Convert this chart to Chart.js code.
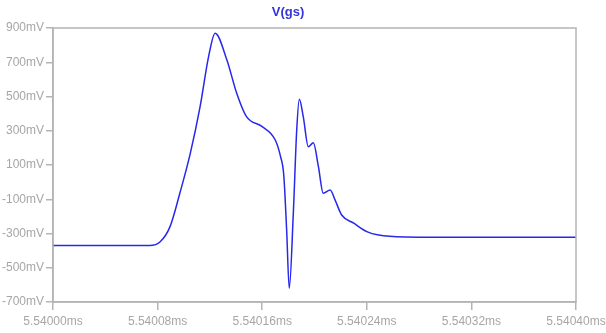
<!DOCTYPE html>
<html>
<head>
<meta charset="utf-8">
<script src="https://cdn.jsdelivr.net/npm/chart.js@4/dist/chart.umd.min.js"></script>
<style>
  html, body { margin: 0; padding: 0; background: #fff; }
  #wrap { width: 606px; height: 333px; }
</style>
</head>
<body>
<div id="wrap"><canvas id="myChart"></canvas></div>
<script>
// time offset from 5.54000ms, in units of 0.00001 ms
const timeOffsets = [
    0, 4, 7.4, 8.2, 8.95, 9.7, 10.5, 11.25, 11.9, 12.4,
    13.3, 14.05, 14.8, 16.0, 17.0, 17.4, 17.65, 17.87, 18.07, 18.38,
    18.64, 18.84, 19.14, 19.53, 19.91, 20.3, 20.67, 21.2, 21.57, 22.08,
    23.0, 24.0, 24.9, 27, 32, 40
];
// V(gs) in mV
const vgsValues = [
    -370, -370, -370, -348, -260, -65, 168, 441, 733, 870,
    713, 519, 382, 324, 246, 150, 40, -280, -620, -182,
    304, 484, 382, 207, 230, 90, -65, -46, -104, -192,
    -240, -289, -309, -320, -322, -322
];
const yTicks = [-700, -500, -300, -100, 100, 300, 500, 700, 900];

const axisGray = '#b4b4b4';
const labelGray = '#a6a6a6';
const lineBlue = 'rgba(40, 40, 235, 1)';
const fontFamily = "'Liberation Sans', Arial, sans-serif";

// box around the plot area (top and right edges)
const frame = {
    id: 'frame',
    afterDraw(chart) {
        const { ctx, chartArea: a } = chart;
        ctx.save();
        ctx.strokeStyle = axisGray;
        ctx.lineWidth = 1.5;
        ctx.strokeRect(a.left, a.top, a.right - a.left, a.bottom - a.top);
        ctx.restore();
    }
};

const ctx = document.getElementById('myChart').getContext('2d');
new Chart(ctx, {
    type: 'line',
    data: {
        datasets: [{
            label: 'V(gs)',
            data: timeOffsets.map((t, i) => ({ x: t, y: vgsValues[i] })),
            borderColor: lineBlue,
            borderWidth: 1.5,
            pointRadius: 0,
            cubicInterpolationMode: 'monotone',
            fill: false,
        }],
    },
    options: {
        responsive: true,
        maintainAspectRatio: false,
        animation: false,
        layout: { padding: { left: 0, right: 30, top: 0, bottom: 0 } },
        plugins: {
            legend: { display: false },
            tooltip: { enabled: false },
            title: {
                display: true,
                text: 'V(gs)',
                color: '#3434dc',
                font: { family: fontFamily, size: 13, weight: 'bold' },
                padding: { top: 5, bottom: 7.4 },
            },
        },
        scales: {
            x: {
                type: 'linear',
                min: 0,
                max: 40,
                afterFit: (s) => { s.height = 31; s.paddingRight = 0; s.paddingLeft = 0; },
                ticks: {
                    stepSize: 8,
                    color: labelGray,
                    padding: 4,
                    maxRotation: 0,
                    font: { family: fontFamily, size: 12 },
                    callback: (v) => (5.54 + v * 0.00001).toFixed(5) + 'ms',
                },
                grid: { drawOnChartArea: false, drawTicks: true, tickLength: 8, color: axisGray, lineWidth: 1.5 },
                border: { color: axisGray, width: 1.5 },
            },
            y: {
                min: -700,
                max: 900,
                afterFit: (s) => { s.width = 53; },
                afterBuildTicks: (s) => { s.ticks = yTicks.map((v) => ({ value: v })); },
                ticks: {
                    color: labelGray,
                    padding: 2,
                    font: { family: fontFamily, size: 12 },
                    callback: (v) => v + 'mV',
                },
                grid: { drawOnChartArea: false, drawTicks: true, tickLength: 7, color: axisGray, lineWidth: 1.5 },
                border: { color: axisGray, width: 1.5 },
            },
        },
    },
    plugins: [frame],
});
</script>
</body>
</html>
